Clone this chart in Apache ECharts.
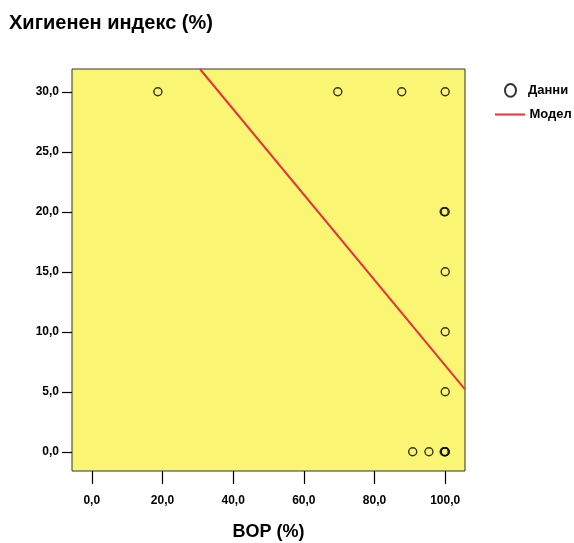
<!DOCTYPE html>
<html>
<head>
<meta charset="utf-8">
<script src="https://cdn.jsdelivr.net/npm/echarts@6/dist/echarts.min.js"></script>
<style>html,body{margin:0;padding:0;background:#fff;}#c{width:574px;height:543px;}</style>
</head>
<body>
<div id="c"></div>
<script>
var titleText = 'Хигиенен индекс (%)';
var xName = 'BOP (%)';
var legendData = 'Данни';
var legendModel = 'Модел';
var xTicks = [0, 20, 40, 60, 80, 100];
var yTicks = [0, 5, 10, 15, 20, 25, 30];
var bopValues = [18.7, 69.6, 87.7, 100, 100, 99.7, 100, 100, 100, 90.8, 95.4, 100, 99.7, 100];
var hiValues  = [30,   30,   30,   30,  20,  20,   15,  10,  5,   0,    0,    0,   0,    0];
var modelX = [30.6, 105.6];
var modelY = [31.9, 5.2];

var fmt = function (v) { return Number(v).toFixed(1).replace('.', ','); };
var font = 'Liberation Sans, Arial, sans-serif';
var scatterData = bopValues.map(function (x, i) { return [x, hiValues[i]]; });
var lineData = modelX.map(function (x, i) { return [x, modelY[i]]; });

var chart = echarts.init(document.getElementById('c'));
chart.setOption({
  animation: false,
  backgroundColor: '#ffffff',
  title: {
    text: titleText, left: 4, top: 8,
    textStyle: { fontFamily: font, fontWeight: 'bold', fontSize: 20, color: '#000' }
  },
  legend: [{
    data: [{ name: legendData, icon: 'path://M6,0 A6,7 0 1,1 6,14 A6,7 0 1,1 6,0 Z' }],
    left: 499, top: 78, itemWidth: 11, itemHeight: 13, orient: 'vertical',
    textStyle: { fontFamily: font, fontWeight: 'bold', fontSize: 13, color: '#000', padding: [0, 0, 0, 7] }
  }, {
    data: [{ name: legendModel, icon: 'path://M0,0H30V2H0Z' }],
    left: 490, top: 103, itemWidth: 33, itemHeight: 2, orient: 'vertical',
    textStyle: { fontFamily: font, fontWeight: 'bold', fontSize: 13, color: '#000', padding: [0, 0, 0, -2] }
  }],
  grid: {
    left: 72, top: 69, right: 109, bottom: 72,
    outerBoundsMode: 'none', containLabel: false,
    show: true, backgroundColor: '#faf673', borderColor: '#333', borderWidth: 1
  },
  xAxis: {
    type: 'value', min: -5.6, max: 105.6,
    name: xName, nameLocation: 'middle', nameGap: 52,
    nameTextStyle: { fontFamily: font, fontWeight: 'bold', fontSize: 18, color: '#000' },
    axisLine: { show: false, onZero: false },
    splitLine: { show: false },
    axisTick: { show: true, length: 13, lineStyle: { color: '#000', width: 1.2 }, customValues: xTicks },
    axisLabel: { margin: 24, formatter: fmt, customValues: xTicks,
      fontFamily: font, fontWeight: 'bold', fontSize: 12, color: '#000' }
  },
  yAxis: {
    type: 'value', min: -1.6, max: 31.9,
    axisLine: { show: false, onZero: false },
    splitLine: { show: false },
    axisTick: { show: true, length: 10, lineStyle: { color: '#000', width: 1.2 }, customValues: yTicks },
    axisLabel: { margin: 13, formatter: fmt, customValues: yTicks,
      fontFamily: font, fontWeight: 'bold', fontSize: 12, color: '#000' }
  },
  series: [{
    name: legendModel, type: 'line', data: lineData, showSymbol: false, symbol: 'none',
    color: '#e8333a',
    lineStyle: { color: '#e8333a', width: 2 }, z: 2
  }, {
    name: legendData, type: 'scatter', data: scatterData,
    symbol: 'circle', symbolSize: 8,
    itemStyle: { color: 'rgba(0,0,0,0)', borderColor: '#000', borderWidth: 1.4 }, z: 3
  }]
});
</script>
</body>
</html>
